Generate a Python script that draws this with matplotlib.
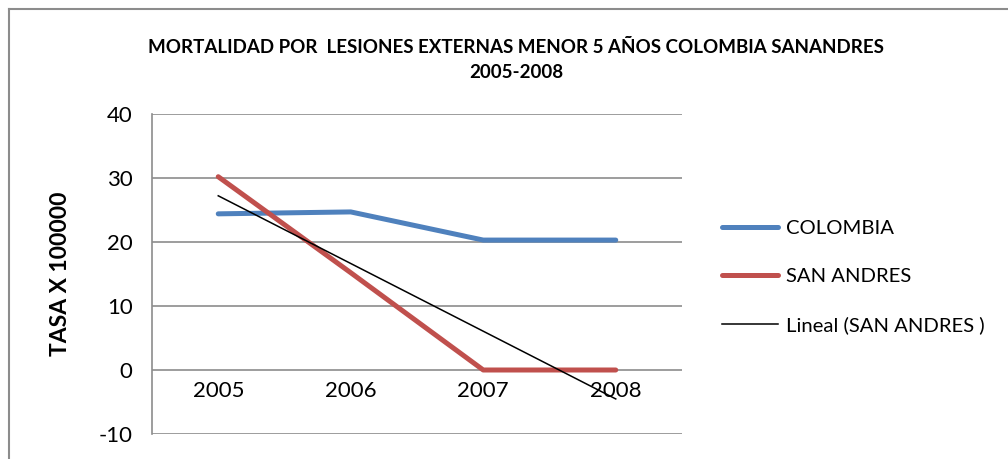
import numpy as np
import matplotlib.pyplot as plt
from matplotlib.lines import Line2D

# mortalidad por lesiones externas < 5 anos, Colombia vs San Andres

years = ['2005', '2006', '2007', '2008']
colombia = [24.4, 24.7, 20.3, 20.3]
san_andres = [30.2, 15.2, 0.0, 0.0]
yticks = [-10, 0, 10, 20, 30, 40]

plt.rcParams['font.family'] = ['Lato', 'DejaVu Sans']
plt.rcParams['axes.unicode_minus'] = False

fig = plt.figure(figsize=(10.08, 4.59), dpi=100)
ax = fig.add_axes([152/1008, 25/459, 530/1008, 320/459])

x = np.arange(len(years))
ax.plot(x, colombia, color='#4F81BD', lw=3.6, solid_capstyle='round', label='COLOMBIA')
ax.plot(x, san_andres, color='#C0504D', lw=3.6, solid_capstyle='round', label='SAN ANDRES')

# linea de tendencia lineal
p = np.polyfit(x, san_andres, 1)
ax.plot(x, np.polyval(p, x), color='black', lw=1.1, label='Lineal (SAN ANDRES )')

ax.set_xlim(-0.5, len(years) - 0.5)
ax.set_ylim(-10, 40)
ax.set_yticks(yticks)
ax.set_xticks(x)
ax.set_xticklabels(years)
ax.grid(axis='y', color='#8c8c8c', lw=1.2)
ax.set_axisbelow(True)
for s in ['top', 'right']:
    ax.spines[s].set_visible(False)
ax.spines['bottom'].set_position(('data', 0))
ax.spines['bottom'].set_visible(False)
ax.spines['left'].set_color('#8c8c8c')
ax.spines['left'].set_linewidth(1.2)
ax.tick_params(axis='x', length=0, pad=8, labelsize=16)
ax.tick_params(axis='y', length=0, pad=14, labelsize=16)

ax.set_ylabel('TASA X 100000', fontsize=16.5, fontweight='bold')
ax.yaxis.set_label_coords(-0.152, 0.5)

fig.text(516/1008, 1 - 60/459,
         'MORTALIDAD POR  LESIONES EXTERNAS MENOR 5 AÑOS COLOMBIA SANANDRES\n2005-2008',
         ha='center', va='center', fontsize=13.5, fontweight='bold', linespacing=1.6)

ax.legend(loc='center left', bbox_to_anchor=(722/1008, 1 - 277/459),
          bbox_transform=fig.transFigure, frameon=False, fontsize=14.6,
          labelspacing=1.55, handlelength=2.75, handletextpad=0.4,
          borderpad=0, borderaxespad=0)

# marco del grafico
fig.add_artist(Line2D([9/1008, 1.0], [1 - 9/459, 1 - 9/459], transform=fig.transFigure,
                      color='#8c8c8c', lw=1.5))
fig.add_artist(Line2D([9/1008, 9/1008], [0, 1 - 9/459], transform=fig.transFigure,
                      color='#8c8c8c', lw=1.5))

plt.savefig('out.png', dpi=100)
